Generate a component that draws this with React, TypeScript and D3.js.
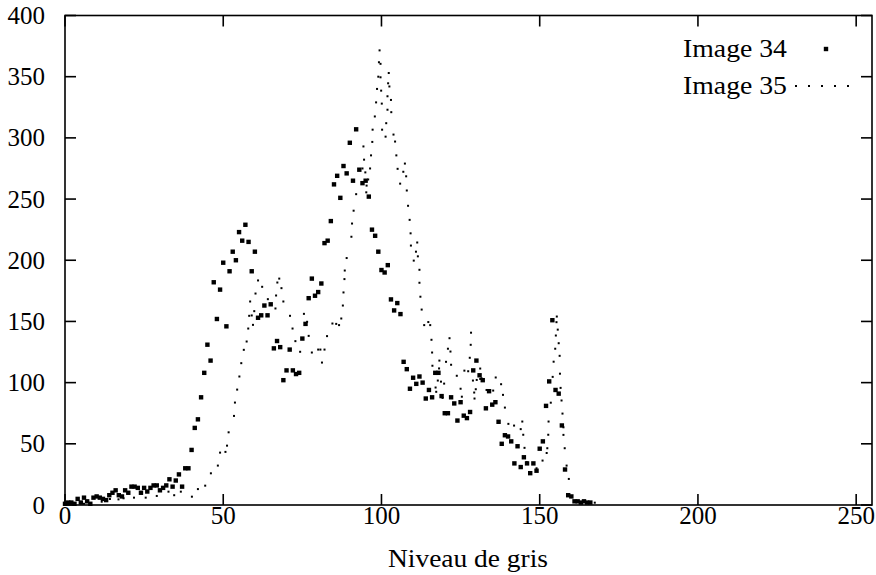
import React from "react";
import * as d3 from "d3";

// Image 34: one count per grey level, starting at level 0
const image34Counts = [
  1, 2, 2, 1, 5, 2, 6, 3, 1, 6, 7, 6, 5, 4, 8, 10, 12, 8, 7, 12,
  10, 15, 15, 14, 10, 14, 11, 14, 16, 16, 12, 14, 16, 21, 15, 20, 25, 15, 30, 30,
  45, 63, 70, 88, 108, 131, 118, 182, 152, 176, 198, 146, 191, 207, 200, 223, 216, 229, 215, 191,
  207, 153, 155, 163, 155, 164, 128, 134, 129, 102, 110, 127, 110, 107, 108, 136, 148, 169, 185, 171,
  174, 181, 214, 216, 232, 262, 269, 251, 277, 271, 296, 265, 307, 274, 263, 265, 252, 225, 220, 207,
  192, 190, 196, 168, 159, 165, 156, 117, 111, 95, 104, 99, 105, 100, 87, 94, 88, 108, 108, 89,
  75, 75, 88, 83, 69, 84, 73, 71, 76, 110, 118, 106, 102, 79, 93, 82, 84, 68, 50, 57,
  56, 52, 34, 48, 31, 39, 34, 26, 34, 28, 46, 52, 81, 101, 151, 94, 91, 65, 29, 8,
  7, 3, 3, 2, 3, 2, 2,
];

// Image 35: grey levels and counts of each visible dot
const image35Levels = [
  2, 6, 11.6, 14.2, 16.9, 18.5, 21.8, 25.5, 29, 32.7, 34.5, 36.6, 40.1, 42, 44.3, 46.1, 48.3, 49, 50.7, 51.2,
  51.7, 53.4, 53.7, 54.4, 55.1, 55.7, 56.5, 57.4, 57.9, 58.2, 58.5, 59, 59.4, 59.8, 60.2, 61, 62.3, 64.1, 66.5, 66.7,
  67.1, 67.7, 68.4, 69, 71.1, 71.9, 72.8, 74.3, 75.5, 76.5, 77, 78, 80, 80.7, 81.2, 82, 82.8, 84.5, 85.7, 86.6,
  87.3, 87.8, 88, 88.3, 88.4, 89, 90.5, 90.7, 91.2, 92, 94, 94.3, 94.5, 94.9, 95.2, 95.3, 95.8, 96.4, 96.7, 97.1,
  97.2, 97.9, 98.3, 98.6, 99, 99.2, 99.4, 99.7, 99.7, 99.9, 100.1, 100.2, 101.3, 101.5, 101.9, 101.9, 102.1, 102.3, 102.5, 103,
  103.1, 103.8, 104.3, 104.7, 105.1, 105.9, 106.9, 107.4, 107.8, 108, 108.4, 108.9, 109.2, 109.3, 110.2, 110.9, 111.3, 111.5, 112, 112,
  112.3, 112.7, 113.5, 114.8, 115.4, 115.8, 116, 116.1, 117.1, 117.3, 117.8, 118.2, 118.3, 118.8, 119.3, 119.8, 120.4, 121, 121.5, 121.8,
  122, 123.8, 125, 125.4, 126.2, 127.4, 127.9, 128.2, 128.3, 128.9, 129.3, 129.4, 129.8, 130.1, 131.2, 131.2, 131.6, 133.2, 135.3, 136.1,
  137.8, 138.4, 139, 140.1, 141.9, 144, 144.5, 144.8, 145.2, 145.9, 149, 150.9, 152.2, 152.4, 152.7, 152.8, 153.5, 154.1, 154.4, 154.9,
  155.1, 155.3, 155.4, 155.7, 156, 156.3, 156.4, 156.6, 156.9, 157.2, 157.5, 157.5, 157.9, 158.5, 159.2, 167.4,
];
const image35Counts = [
  1, 1, 2.7, 4.9, 4.6, 5.5, 6, 6, 7.4, 10.9, 8, 10.9, 6.8, 13, 15.8, 25.9, 32.2, 42.8, 43.4, 48.5,
  59.4, 72.8, 83.7, 94.3, 105, 115.9, 126.8, 133.6, 144.2, 154.6, 166.3, 154.9, 147.2, 158.4, 172.8, 183.5, 178.3, 168.2, 160.6, 171.2,
  181.8, 185, 177.2, 166.3, 154.6, 144.2, 133.9, 125.2, 156.2, 149.7, 138.2, 124.6, 127, 127, 116.4, 127, 138, 148.3, 148, 147,
  152.4, 163, 173.7, 184.6, 191.6, 201.8, 219.2, 230, 240.5, 254, 275, 293, 282.2, 271.8, 255.5, 261, 266, 275, 285.7, 296.7,
  306.7, 317.5, 329, 340, 350, 361.8, 371.5, 360.5, 349.5, 338.6, 328, 306.7, 301, 312, 334, 323, 344.6, 353, 342, 331,
  321, 302.7, 297, 285.7, 274.7, 262.6, 272.3, 279, 268.6, 257, 244.5, 233, 222, 212, 199.7, 207, 214.5, 203.2, 192.2, 181.6,
  170.2, 159.7, 147, 149.5, 147, 135, 124.6, 113.8, 96, 92.5, 101.7, 111.6, 118, 100.8, 87.5, 99.2, 117, 127.7, 136.3, 125.4,
  114.6, 105.6, 95, 88.5, 109.8, 109.3, 120.3, 130.9, 140.8, 101.7, 91.9, 87, 94.6, 102.2, 111.5, 103, 103.6, 94, 93.5, 104.2,
  98.7, 90, 79.6, 66.3, 64.9, 62, 68.2, 57.4, 46.7, 35, 30, 36.3, 42.5, 46.4, 57.4, 68.2, 83.6, 104.7, 117.1, 127.7,
  138.5, 149.4, 154, 143.3, 132.2, 121.9, 107.3, 95.7, 85.4, 74.7, 63.5, 57.3, 46.4, 32.2, 21.3, 1.9,
];

const xTicks = [0, 50, 100, 150, 200, 250];
const yTicks = [0, 50, 100, 150, 200, 250, 300, 350, 400];
const seriesNames = ["Image 34", "Image 35"];
const xLabel = "Niveau de gris";

const W = 876;
const H = 575;
const left = 65;
const right = 872;
const top = 15.5;
const bottom = 505;
const FONT = "'Liberation Serif', 'DejaVu Serif', serif";

export default function App() {
  const x = d3.scaleLinear().domain([0, 255]).range([left, right]);
  const y = d3.scaleLinear().domain([0, 400]).range([bottom, top]);
  const tick = 11;
  const sq = 4.4;
  const dot = 2;

  const pts34 = image34Counts.map((c, i) => ({ gx: i, c }));
  const pts35 = image35Levels.map((g, i) => ({ gx: g, c: image35Counts[i] }));

  return (
    <div style={{ position: "absolute", left: 0, top: 0 }}>
      <svg width={W} height={H} style={{ display: "block", background: "#fff" }}>
        <g fontFamily={FONT} fontSize={25} fill="#000">
          {yTicks.map((t) => (
            <g key={"y" + t}>
              <line x1={left} x2={left + tick} y1={y(t)} y2={y(t)} stroke="#000" strokeWidth={1.6} />
              <line x1={right - tick} x2={right} y1={y(t)} y2={y(t)} stroke="#000" strokeWidth={1.6} />
              <text x={45} y={y(t)} textAnchor="end" dominantBaseline="central">
                {t}
              </text>
            </g>
          ))}
          {xTicks.map((t) => (
            <g key={"x" + t}>
              <line x1={x(t)} x2={x(t)} y1={bottom} y2={bottom - tick} stroke="#000" strokeWidth={1.6} />
              <line x1={x(t)} x2={x(t)} y1={top} y2={top + tick} stroke="#000" strokeWidth={1.6} />
              <text x={x(t)} y={524} textAnchor="middle">
                {t}
              </text>
            </g>
          ))}
          <text x={468} y={567} textAnchor="middle" textLength={160} lengthAdjust="spacingAndGlyphs">
            {xLabel}
          </text>
        </g>

        <g fill="#000">
          {pts34.map((p, i) => (
            <rect key={"a" + i} x={x(p.gx) - sq / 2} y={y(p.c) - sq / 2} width={sq} height={sq} />
          ))}
          {pts35.map((p, i) => (
            <rect key={"b" + i} x={x(p.gx) - dot / 2} y={y(p.c) - dot / 2} width={dot} height={dot} />
          ))}
        </g>

        <rect x={left} y={top} width={right - left} height={bottom - top} fill="none" stroke="#000" strokeWidth={1.6} />

        <g fontFamily={FONT} fontSize={25} fill="#000">
          <text x={787} y={57} textAnchor="end" textLength={104} lengthAdjust="spacingAndGlyphs">{seriesNames[0]}</text>
          <rect x={826 - sq / 2} y={49 - sq / 2} width={sq} height={sq} />
          <text x={787} y={94} textAnchor="end" textLength={104} lengthAdjust="spacingAndGlyphs">{seriesNames[1]}</text>
          {[0, 1, 2, 3, 4].map((k) => (
            <rect key={"l" + k} x={796 + k * 13 - dot / 2} y={86 - dot / 2} width={dot} height={dot} />
          ))}
        </g>
      </svg>
    </div>
  );
}
